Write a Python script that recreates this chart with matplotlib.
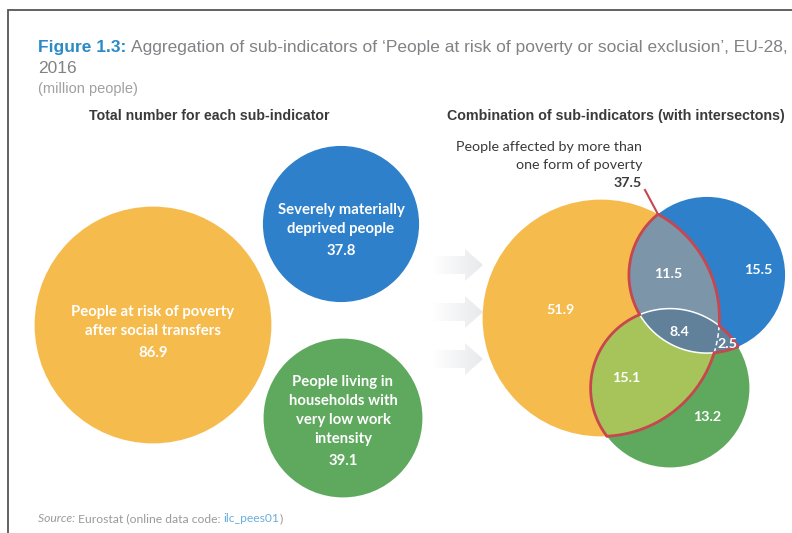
import numpy as np
import matplotlib.pyplot as plt
from matplotlib.patches import Circle, Polygon
from matplotlib.colors import LinearSegmentedColormap

# EU-28, 2016, million people
sub_labels = [
    "People at risk of poverty\nafter social transfers",
    "Severely materially\ndeprived people",
    "People living in\nhouseholds with\nvery low work\nintensity",
]
sub_totals = [86.9, 37.8, 39.1]

# Venn regions: Y = at-risk, B = deprived, G = low work intensity
region_keys = ["Y", "B", "G", "YB", "YG", "BG", "YBG"]
region_values = [51.9, 15.5, 13.2, 11.5, 15.1, 2.5, 8.4]
multi_form_total = 37.5

COL_Y = "#F6BB4D"
COL_B = "#2F80CB"
COL_G = "#5FA95F"
COL_YB = "#7C95A8"
COL_YG = "#A6C45A"
COL_BG = "#61819A"
COL_RED = "#C8464E"
TXT_DARK = "#3A3A3A"
TXT_GRAY = "#808285"

RAD_SCALE = 12.7  # px per sqrt(million)

BODY = ["Lato", "DejaVu Sans"]
HEAD = ["Liberation Sans", "DejaVu Sans"]


def radius(v):
    return RAD_SCALE * np.sqrt(v)


fig = plt.figure(figsize=(7.92, 5.33), dpi=100)
ax = fig.add_axes([0, 0, 1, 1])
renderer = fig.canvas.get_renderer()


def put_runs(x, y, runs, **kw):
    # draw consecutive text pieces on one baseline
    for s, style in runs:
        t = ax.text(x, y, s, va="baseline", ha="left", **{**kw, **style})
        bb = t.get_window_extent(renderer)
        x += bb.width


# frame
ax.plot([8, 8, 792], [533, 10, 10], color="#555555", lw=1.3, solid_joinstyle="miter")

# headings
put_runs(38, 52, [
    ("Figure 1.3: ", dict(color="#2A8AC8", fontweight="bold")),
    ("Aggregation of sub-indicators of \u2018People at risk of poverty or social exclusion\u2019, EU-28,",
     dict(color=TXT_GRAY)),
], family=HEAD, fontsize=12.5)
ax.text(38, 73, "2016", family=HEAD, fontsize=12.5, color=TXT_GRAY, va="baseline")
ax.text(38, 93, "(million people)", family=HEAD, fontsize=10.5, color="#A0A0A0", va="baseline")

ax.text(209, 116, "Total number for each sub-indicator", family=HEAD, fontsize=10.2,
        fontweight="bold", color=TXT_DARK, ha="center", va="center")
ax.text(616, 116, "Combination of sub-indicators (with intersectons)", family=HEAD,
        fontsize=10.3, fontweight="bold", color=TXT_DARK, ha="center", va="center")

# left panel: one circle per sub-indicator, area ~ total
left_centres = [(153, 325), (341, 224), (343, 418)]
first_line_dy = [-13, -14, -36]
LINE_STEP = 19
for (cx, cy), total, label, col, dy in zip(left_centres, sub_totals, sub_labels,
                                           [COL_Y, COL_B, COL_G], first_line_dy):
    ax.add_patch(Circle((cx, cy), radius(total), fc=col, ec="none", zorder=2))
    y = cy + dy
    for line in label.split("\n"):
        ax.text(cx, y, line, family=BODY, fontsize=10.7, fontweight="bold", color="white",
                ha="center", va="center", zorder=3)
        y += LINE_STEP
    ax.text(cx, y + 3, f"{total:.1f}", family=BODY, fontsize=10.7,
            fontweight="bold", color="white", ha="center", va="center", zorder=3)

# faint arrows between the panels
arrow_cmap = LinearSegmentedColormap.from_list("fade", ["#FFFFFF", "#E8E9ED"])
grad = np.linspace(0, 1, 128).reshape(1, -1)
for yc in (265, 312, 359):
    shape = Polygon([(432, yc - 9), (465, yc - 9), (465, yc - 16), (483, yc),
                     (465, yc + 16), (465, yc + 9), (432, yc + 9)],
                    closed=True, fc="none", ec="none", transform=ax.transData)
    ax.add_patch(shape)
    im = ax.imshow(grad, extent=(432, 483, yc + 16, yc - 16), cmap=arrow_cmap,
                   vmin=0, vmax=1, aspect="auto", zorder=1)
    im.set_clip_path(shape)

# right panel: Venn diagram
venn = [((601, 318), radius(sub_totals[0]), COL_Y),
        ((707, 275), radius(sub_totals[1]), COL_B),
        ((670, 388), radius(sub_totals[2]), COL_G)]
circ = []
for c, r, col in venn:
    p = Circle(c, r, fc=col, ec="none", zorder=2)
    ax.add_patch(p)
    circ.append(p)


def overlay(base, clip, col):
    c, r, _ = venn[base]
    p = Circle(c, r, fc=col, ec="none", zorder=3)
    ax.add_patch(p)
    p.set_clip_path(circ[clip])


overlay(1, 0, COL_YB)
overlay(2, 0, COL_YG)
overlay(1, 2, COL_BG)

# outlines: red around the "two or more" area, white inside it
t = np.linspace(0, 2 * np.pi, 6000)
for i, (c, r, _) in enumerate(venn):
    x = c[0] + r * np.cos(t)
    y = c[1] + r * np.sin(t)
    depth = sum(((x - c2[0]) ** 2 + (y - c2[1]) ** 2 < r2 ** 2).astype(int)
                for j, (c2, r2, _) in enumerate(venn) if j != i)
    ax.plot(x, np.where(depth == 2, y, np.nan), color="white", lw=1.1,
            ls=(0, (3, 2)) if i == 0 else "-", zorder=4)
    ax.plot(x, np.where(depth == 1, y, np.nan), color=COL_RED, lw=2, zorder=5,
            solid_capstyle="round")

# top crossing of Y and B for the leader line
(c1, r1, _), (c2, r2, _) = venn[0], venn[1]
d = np.hypot(c2[0] - c1[0], c2[1] - c1[1])
u = np.array([c2[0] - c1[0], c2[1] - c1[1]]) / d
a = (d ** 2 + r1 ** 2 - r2 ** 2) / (2 * d)
h = np.sqrt(r1 ** 2 - a ** 2)
base = np.array(c1) + a * u
top = base - h * np.array([-u[1], u[0]])
ax.plot([645, top[0]], [190, top[1]], color=COL_RED, lw=1.5, zorder=5)

ax.text(642, 147, "People affected by more than", family=BODY, fontsize=10.3,
        color=TXT_DARK, ha="right", va="center")
ax.text(642, 165, "one form of poverty", family=BODY, fontsize=10.3,
        color=TXT_DARK, ha="right", va="center")
ax.text(642, 183, f"{multi_form_total:.1f}", family=BODY, fontsize=10.3, fontweight="bold",
        color=TXT_DARK, ha="right", va="center")

region_pos = {"Y": (560, 310), "B": (758, 270), "G": (707, 417), "YB": (668, 274),
              "YG": (626, 378), "BG": (727, 344), "YBG": (679, 332)}
for key, val in zip(region_keys, region_values):
    ax.text(*region_pos[key], f"{val:.1f}", family=BODY, fontsize=10.3, fontweight="bold",
            color="white", ha="center", va="center", zorder=6)

# source
put_runs(38, 522, [
    ("Source: ", dict(style="italic")),
    ("Eurostat (online data code: ", {}),
    ("ilc_pees01", dict(color="#6AAEDD")),
    (")", {}),
], family=BODY, fontsize=8.7, color="#9A9A9A")

ax.set_xlim(0, 792)
ax.set_ylim(533, 0)
ax.axis("off")
fig.savefig("out.png", dpi=100, facecolor="white")
